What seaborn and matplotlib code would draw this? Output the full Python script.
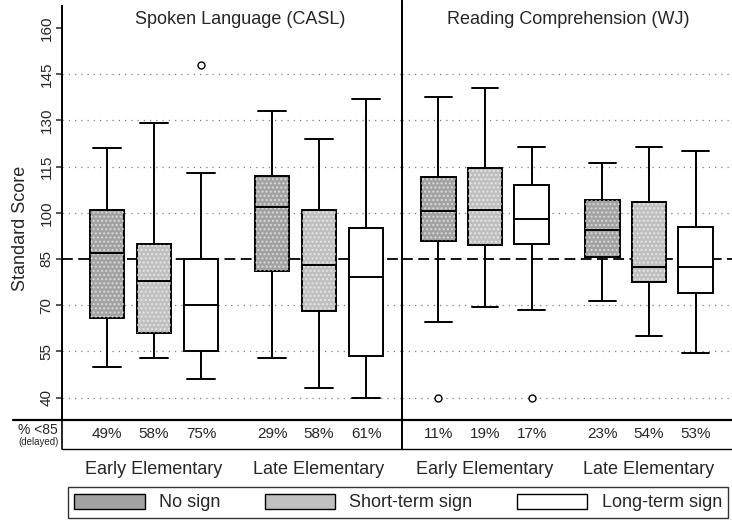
import matplotlib
matplotlib.use("Agg")
import matplotlib.pyplot as plt
from matplotlib.lines import Line2D
from matplotlib.patches import Patch, PathPatch
import pandas as pd
import seaborn as sns

# ---- data -----------------------------------------------------------------
tests = ["Spoken Language (CASL)", "Reading Comprehension (WJ)"]
grades = ["Early Elementary", "Late Elementary"]
signs = ["No sign", "Short-term sign", "Long-term sign"]

# box summaries, ordered test -> grade -> sign
whisker_low = [50, 53, 46, 53, 43, 40, 64.5, 69.5, 68.5, 71.5, 60, 54.5]
quartile_1 = [66, 61, 55, 81, 68, 53.5, 91, 89.5, 90, 85.5, 77.5, 74]
medians = [87, 78, 70, 102, 83, 79, 100.5, 101, 98, 94.5, 82.5, 82.5]
quartile_3 = [101, 90, 85, 112, 101, 95, 111.5, 114.5, 109, 104, 103.5, 95.5]
whisker_high = [121, 129, 113, 133, 124, 137, 137.5, 140.5, 121.5, 116, 121.5, 120]
outliers = [[], [], [148], [], [], [], [40], [], [40], [], [], []]
pct_delayed = ["49%", "58%", "75%", "29%", "58%", "61%",
               "11%", "19%", "17%", "23%", "54%", "53%"]

y_ticks = [40, 55, 70, 85, 100, 115, 130, 145, 160]
grid_levels = [40, 55, 70, 100, 115, 130, 145]
cutoff = 85

sign_colors = {"No sign": "#a2a2a2", "Short-term sign": "#c0c0c0",
               "Long-term sign": "#ffffff"}
sign_hatch = {"No sign": "....", "Short-term sign": "....",
              "Long-term sign": None}

# Long-form table: each box's five values repeated so that the quartiles
# computed by seaborn land exactly on the summary values.
rows = []
k = 0
for t in tests:
    for g in grades:
        for s in signs:
            vals = [whisker_low[k], quartile_1[k], medians[k],
                    quartile_3[k], whisker_high[k]] * 20 + outliers[k]
            rows += [(t, g, s, v) for v in vals]
            k += 1
df = pd.DataFrame(rows, columns=["test", "grade", "sign", "score"])

# ---- figure ---------------------------------------------------------------
sns.set_style("white")
plt.rcParams["font.family"] = ["Liberation Sans", "DejaVu Sans"]

W, H = 732, 522
fig = plt.figure(figsize=(W / 100, H / 100), dpi=100)


def fx(x):
    return x / W


def fy(y):
    return 1 - y / H


top_px, bot_px = 6.4, 420
panels = [(62, 402, (-0.558, 1.503)), (402, 732, (-0.506, 1.506))]
title_x = [240, 568]
box_width = 0.855
gap = 0.26
ylim = (32.73, 167.0)
single_w = box_width / len(signs) * (1 - gap)

axes = []
for i, (t, (x0, x1, xl)) in enumerate(zip(tests, panels)):
    ax = fig.add_axes([fx(x0), fy(bot_px), fx(x1 - x0), (bot_px - top_px) / H])
    sub = df[df["test"] == t]
    for lv in grid_levels:
        ax.axhline(lv, color="#808080", lw=0.9, ls=(0, (1, 4)), zorder=0)
    ax.axhline(cutoff, color="black", lw=1.3, ls=(0, (6, 3)), zorder=0.5)
    sns.boxplot(data=sub, x="grade", y="score", hue="sign", order=grades,
                hue_order=signs, palette=sign_colors, saturation=1,
                width=box_width, gap=gap, whis=1.5, linecolor="black",
                linewidth=1.4, legend=False, ax=ax,
                flierprops=dict(marker="o", markerfacecolor="white",
                                markeredgecolor="black", markersize=5,
                                markeredgewidth=1.0))
    # widen whisker caps
    for ln in ax.lines:
        xs, ys = ln.get_xdata(), ln.get_ydata()
        if len(xs) == 2 and ys[0] == ys[1] and abs(xs[1] - xs[0]) < 0.7 * single_w:
            c = (xs[0] + xs[1]) / 2
            ln.set_xdata([c - 0.39 * single_w, c + 0.39 * single_w])
    # speckled texture over the shaded boxes
    for patch in list(ax.patches):
        fc = patch.get_facecolor()
        if fc[0] < 0.95:
            ax.add_patch(PathPatch(patch.get_path(),
                                   transform=patch.get_transform(),
                                   facecolor="none", edgecolor="white",
                                   lw=0, hatch="....", alpha=0.55,
                                   zorder=patch.get_zorder() + 0.01))
    ax.set_xlim(*xl)
    ax.set_ylim(*ylim)
    ax.set_xlabel("")
    ax.set_ylabel("")
    ax.set_xticks([])
    for side in ["top", "right", "bottom"]:
        ax.spines[side].set_visible(False)
    ax.spines["left"].set_color("black")
    ax.spines["left"].set_linewidth(1.4)
    if i == 0:
        ax.set_yticks(y_ticks)
        ax.tick_params(axis="y", direction="out", length=4, width=1.1,
                       pad=2, labelsize=11, left=True)
        plt.setp(ax.get_yticklabels(), rotation=90, va="center")
    else:
        ax.set_yticks([])
    fig.text(fx(title_x[i]), fy(20), t, ha="center", va="center", fontsize=13)

    # percentage row and grade labels
    step = box_width / len(signs)
    for gi, g in enumerate(grades):
        for si in range(len(signs)):
            idx = i * 6 + gi * 3 + si
            ax.text(gi + (si - 1) * step, -(434 - bot_px) / (bot_px - top_px),
                    pct_delayed[idx], transform=ax.get_xaxis_transform(),
                    ha="center", va="center", fontsize=11)
        ax.text(gi, -(470 - bot_px) / (bot_px - top_px), g,
                transform=ax.get_xaxis_transform(), ha="center",
                va="center", fontsize=13)
    axes.append(ax)

# table rules under the plotting area
fig.add_artist(Line2D([fx(13), 1], [fy(420), fy(420)], color="black", lw=1.6))
fig.add_artist(Line2D([fx(62), 1], [fy(449), fy(449)], color="black", lw=1.0))
fig.add_artist(Line2D([fx(62), fx(62)], [fy(420), fy(449)], color="black", lw=1.2))
fig.add_artist(Line2D([fx(402), fx(402)], [fy(0), fy(449)], color="black", lw=1.4))

fig.text(fx(58), fy(430), "% <85", ha="right", va="center", fontsize=10)
fig.text(fx(59), fy(442), "(delayed)", ha="right", va="center", fontsize=7)
fig.text(fx(21), fy(228), "Standard Score", rotation=90, ha="center",
         va="center", fontsize=13)

handles = [Patch(facecolor=sign_colors[s], edgecolor="black", lw=1.0)
           for s in signs]
leg = fig.legend(handles, signs, loc="center", ncol=3,
                 bbox_to_anchor=(fx(398), fy(502.5)), fontsize=13,
                 frameon=True, fancybox=False, edgecolor="black",
                 handlelength=3.9, handleheight=0.95, handletextpad=0.8,
                 columnspacing=2.45, borderpad=0.35, borderaxespad=0)
leg.get_frame().set_linewidth(1.0)

fig.savefig("out.png", dpi=100)
